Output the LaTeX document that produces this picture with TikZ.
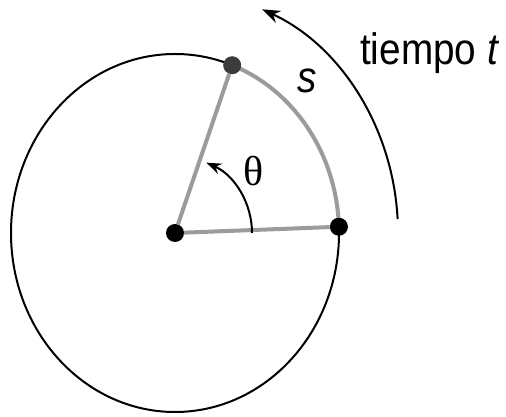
\documentclass[tikz,border=0pt]{standalone}
\usepackage{fontspec}
\usetikzlibrary{arrows.meta,calc}
\newfontfamily\lab[FakeStretch=0.88]{Liberation Sans}
\newfontfamily\grk{Liberation Serif}
\definecolor{radgray}{RGB}{155,155,155}
\definecolor{dotgray}{RGB}{60,60,60}
\tikzset{
  dotnode/.style={circle,fill=black,inner sep=0pt,minimum size=18pt},
  radius line/.style={draw=radgray,line width=4pt},
  rim/.style={draw=black,line width=2pt},
  txt/.style={font=\lab\fontsize{44}{44}\selectfont,inner sep=0pt},
}
\begin{document}
\begin{tikzpicture}[x=1pt,y=1pt]
\useasboundingbox (0,0) rectangle (506,417);
% circle (slightly elliptical as in the reference)
\coordinate (O) at (175,184);
\draw[rim] (O) ellipse [x radius=164, y radius=179];
% gray arc s along the rim
\coordinate (A0) at ({175+164*cos(2)},{184+179*sin(2)});
\draw[radius line] (A0) arc [start angle=2, end angle=69.6, x radius=164, y radius=179];
% dots
\node[dotnode] (C) at (O) {};
\node[dotnode] (R) at (A0) {};
\node[dotnode,fill=dotgray] (T) at ({175+164*cos(69.6)},{184+179*sin(69.6)}) {};
% radii
\draw[radius line] (C) -- (R);
\draw[radius line] (C) -- (T);
% theta arc
\coordinate (th0) at (252,184);
\draw[line width=2pt,-{Stealth[length=15pt,width=11pt]}] (th0) arc [start angle=0, end angle=66, radius=77];
\node[inner sep=0pt,font=\grk\fontsize{42}{42}\selectfont] (theta) at (254,246) {θ};
% s label
\node[txt,anchor=base] (s) at (307,324) {\itshape s};
% outer time arrow
\coordinate (t0) at ({175+223*cos(3.3)},{184+243*sin(3.3)});
\draw[line width=2pt,-{Stealth[length=18pt,width=13pt]}] (t0) arc [start angle=3.3, end angle=67, x radius=223, y radius=243];
\node[txt,anchor=base west] (tt) at (360,352) {tiempo \itshape t};
\end{tikzpicture}
\end{document}
